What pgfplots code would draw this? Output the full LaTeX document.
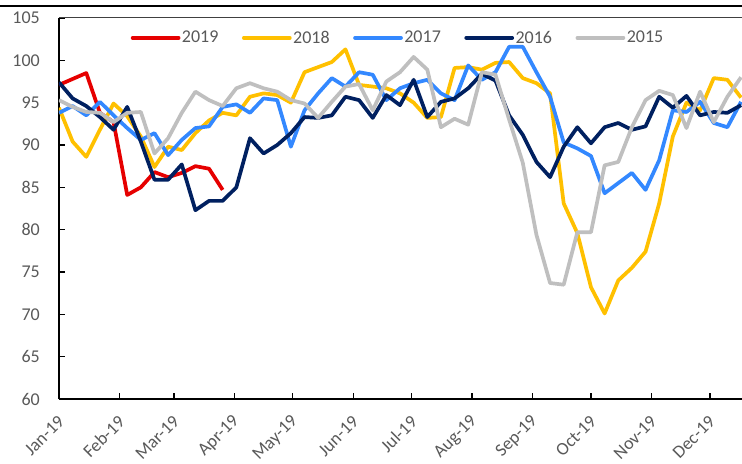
\documentclass[border=0pt]{standalone}
\usepackage{pgfplots}
\usepackage{pgfplotstable}
\pgfplotsset{compat=1.18}
\usepackage{fontspec}
\setmainfont{Carlito}

\definecolor{c19}{RGB}{230,0,0}
\definecolor{c18}{RGB}{255,192,0}
\definecolor{c17}{RGB}{51,136,255}
\definecolor{c16}{RGB}{0,32,96}
\definecolor{c15}{RGB}{191,191,191}
\definecolor{tickgray}{RGB}{89,89,89}

% weekly readings, x = day of year
\pgfplotstableread{
day r19
0 97.1
7 97.8
14 98.5
21 93.8
28 92.7
35 84.1
42 85.0
49 86.8
56 86.2
63 86.7
70 87.5
77 87.2
84 84.7
}\tabA

\pgfplotstableread{
day g18 b17 n16 s15
0 94.4 93.8 97.4 95.3
7 90.4 94.6 95.5 94.5
14 88.6 93.5 94.6 93.9
21 91.8 95.1 93.3 93.8
28 94.9 93.5 91.8 92.7
35 93.4 92.0 94.5 93.8
42 91.0 90.6 90.4 93.9
49 87.4 91.4 85.9 89.0
56 89.8 88.8 85.9 90.8
63 89.4 90.6 87.7 93.8
70 91.4 92.0 82.3 96.3
77 92.9 92.2 83.4 95.3
84 93.8 94.5 83.4 94.6
91 93.5 94.8 85.0 96.7
98 95.7 93.8 90.8 97.3
105 96.1 95.5 89.0 96.7
112 95.9 95.3 90.0 96.3
119 95.0 89.8 91.4 95.3
126 98.6 94.1 93.3 94.9
133 99.2 96.1 93.2 93.2
140 99.8 97.9 93.5 95.1
147 101.3 96.9 95.7 96.9
154 97.1 98.6 95.3 97.2
161 96.9 98.3 93.2 94.1
168 96.7 95.3 95.9 97.5
175 96.1 96.7 94.7 98.6
182 95.0 97.3 97.7 100.4
189 93.2 97.7 93.3 98.9
196 93.3 96.1 95.1 92.1
203 99.1 95.3 95.5 93.1
210 99.2 99.4 96.7 92.4
217 98.9 97.7 98.4 98.6
224 99.7 98.6 97.6 98.3
231 99.8 101.6 93.5 93.0
238 97.9 101.6 91.2 87.9
245 97.3 98.6 88.0 79.4
252 96.1 95.7 86.2 73.7
259 83.1 90.3 89.8 73.5
266 79.6 89.6 92.1 79.7
273 73.2 88.7 90.2 79.7
280 70.1 84.3 92.1 87.6
287 74.0 85.5 92.6 88.0
294 75.5 86.7 91.8 92.1
301 77.4 84.7 92.2 95.3
308 83.1 88.2 95.7 96.4
315 91.0 94.1 94.4 95.9
322 95.0 93.9 95.8 92.0
329 94.1 95.1 93.5 96.3
336 97.9 92.6 93.9 92.7
343 97.7 92.1 93.8 95.7
350 95.6 95.1 94.7 98.0
}\tabB

\begin{document}
\begin{tikzpicture}
\begin{axis}[
    scale only axis,
    width=683bp, height=381bp,
    xmin=0, xmax=350.5,
    ymin=60, ymax=105,
    axis x line*=bottom,
    axis y line*=left,
    axis line style={line width=1.3bp, black},
    major tick style={line width=1.3bp, black},
    major tick length=6bp,
    tick align=inside,
    ytick={60,65,...,105},
    xtick={0,31,59,90,120,151,181,212,243,273,304,334},
    xticklabels={Jan-19,Feb-19,Mar-19,Apr-19,May-19,Jun-19,Jul-19,Aug-19,Sep-19,Oct-19,Nov-19,Dec-19},
    /pgf/number format/assume math mode=true,
    tick label style={font=\fontsize{18bp}{20bp}\selectfont, text=tickgray},
    yticklabel style={anchor=east, inner sep=0pt, xshift=-19bp},
    xticklabel style={xshift=3bp, yshift=-19bp, rotate=45, anchor=east, inner sep=1bp},
    legend style={at={(0.496,0.948)}, anchor=center, draw=none, fill=none,
        font=\fontsize{18bp}{20bp}\selectfont, text=tickgray,
        nodes={inner sep=1.5bp},
        /tikz/every even column/.append style={column sep=22bp}},
    legend columns=5,
    legend image code/.code={\draw[#1, line cap=round] (0bp,0bp) -- (46bp,0bp);},
    every axis plot/.append style={line width=3.7bp, line join=round, no markers},
]
\addplot[c19] table[x=day, y=r19] {\tabA};
\addplot[c18] table[x=day, y=g18] {\tabB};
\addplot[c17] table[x=day, y=b17] {\tabB};
\addplot[c16] table[x=day, y=n16] {\tabB};
\addplot[c15] table[x=day, y=s15] {\tabB};
\legend{2019,2018,2017,2016,2015}
\end{axis}
\draw[line width=1bp, black!75] (current axis.north west) -- ([xshift=20bp]current axis.north east);
\draw[line width=2.6bp, black] ([xshift=-70bp,yshift=12bp]current axis.north west) -- ([xshift=20bp,yshift=12bp]current axis.north east);
\pgfresetboundingbox
\path[use as bounding box] ([xshift=-59bp,yshift=-65bp]current axis.south west) rectangle ([yshift=18bp]current axis.north east);
\end{tikzpicture}
\end{document}
